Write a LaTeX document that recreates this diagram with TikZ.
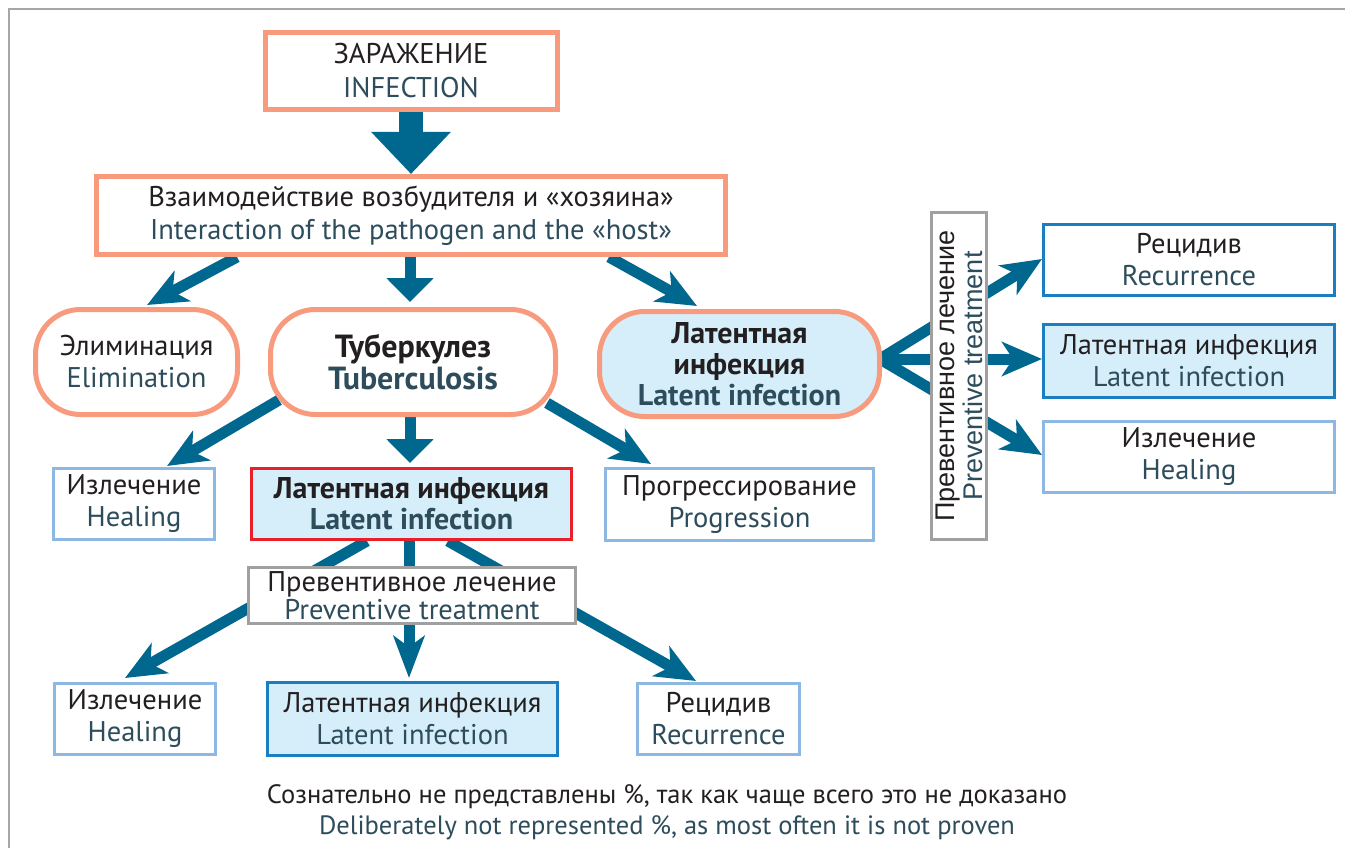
\documentclass[tikz,border=0pt]{standalone}
\usepackage{fontspec}
\setmainfont{PT Sans}
\newfontfamily\arialf{Liberation Sans}
\usetikzlibrary{arrows.meta,backgrounds}
\definecolor{salmon}{HTML}{F79A7D}
\definecolor{lightfill}{HTML}{D6EEFA}
\definecolor{lightborder}{HTML}{8DB8E3}
\definecolor{darkborder}{HTML}{1B7DC2}
\definecolor{redborder}{HTML}{E8202A}
\definecolor{grayborder}{HTML}{A0A0A0}
\definecolor{framegray}{HTML}{A6A6A6}
\definecolor{arrowblue}{HTML}{00688F}
\definecolor{rutext}{HTML}{231F20}
\definecolor{entext}{HTML}{2E4D5C}
\newcommand\bil[2]{\textcolor{rutext}{#1}\\\textcolor{entext}{#2}}
\tikzset{
  sz/.style 2 args={minimum width=#1, minimum height=#2},
  basebox/.style={draw, fill=white, inner sep=0pt, align=center, font=\fontsize{28.5}{32}\selectfont},
  boldtext/.style={font=\fontsize{30}{31}\selectfont\bfseries},
  sbox/.style={basebox, draw=salmon, line width=5pt},
  sround/.style={sbox, rounded corners=45pt},
  lbox/.style={basebox, draw=lightborder, line width=3pt},
  dbox/.style={basebox, draw=darkborder, line width=3pt, fill=lightfill},
  gbox/.style={basebox, draw=grayborder, line width=3pt},
  flow/.style={draw=arrowblue, line width=11pt, -{Stealth[length=40pt, width=34pt, inset=11pt]}, arrowblue},
  flowtri/.style={draw=arrowblue, line width=11pt, -{Triangle[length=24pt, width=46pt]}, arrowblue},
  bigflow/.style={draw=arrowblue, line width=24pt, -{Triangle[length=42pt, width=77pt]}, arrowblue},
}
\begin{document}
\begin{tikzpicture}[x=1pt,y=-1pt]
\useasboundingbox (0,0) rectangle (1345,848);
\draw[framegray, line width=1.5pt] (9,848) -- (9,9) -- (1345,9);

\node[sbox, sz={292pt}{77pt}, font=\fontsize{28.5}{34}\selectfont] (inf) at (411,71) {\bil{ЗАРАЖЕНИЕ}{INFECTION}};
\node[sbox, sz={629pt}{78pt}, font=\fontsize{28.5}{33}\selectfont] (inter) at (411,215.5) {\bil{Взаимодействие возбудителя и «хозяина»}{Interaction of the pathogen and the «host»}};
\node[sround, sz={202pt}{105pt}] (elim) at (136.5,362) {\bil{Элиминация}{Elimination}};
\node[sround, font=\fontsize{32}{32}\selectfont\bfseries, sz={285pt}{105pt}] (tb) at (413,362) {\bil{Туберкулез}{Tuberculosis}};
\node[sround, boldtext, fill=lightfill, sz={280pt}{105pt}] (lat1) at (739.5,364) {\textcolor{rutext}{Латентная}\\\bil{инфекция}{Latent infection}};

\node[lbox, sz={161pt}{71pt}] (heal1) at (134,504) {\bil{Излечение}{Healing}};
\node[dbox, boldtext, draw=redborder, sz={320pt}{71pt}] (lat2) at (411.5,504) {\bil{Латентная инфекция}{Latent infection}};
\node[lbox, sz={268pt}{72pt}] (prog) at (739.5,504.5) {\bil{Прогрессирование}{Progression}};

\node[gbox, sz={327pt}{56pt}, font=\fontsize{28.5}{28}\selectfont] (prev) at (412,595.5) {\bil{Превентивное лечение}{Preventive treatment}};

\node[lbox, sz={161pt}{71pt}] (heal2) at (135,719) {\bil{Излечение}{Healing}};
\node[dbox, sz={290pt}{73pt}] (lat3) at (412.5,719) {\bil{Латентная инфекция}{Latent infection}};
\node[lbox, sz={162pt}{71pt}] (rec2) at (718.5,719) {\bil{Рецидив}{Recurrence}};

\node[gbox, rotate=90, sz={327pt}{55pt}, font=\arialf\fontsize{27}{28}\selectfont] (prevV) at (959,376) {\bil{Превентивное лечение}{Preventive treatment}};

\node[dbox, fill=white, sz={291pt}{71pt}] (rec1) at (1189,260) {\bil{Рецидив}{Recurrence}};
\node[dbox, sz={291pt}{73pt}] (lat4) at (1189,361) {\bil{Латентная инфекция}{Latent infection}};
\node[lbox, sz={291pt}{71pt}] (heal3) at (1189,457) {\bil{Излечение}{Healing}};

\node[align=center, font=\fontsize{26.5}{31}\selectfont] (foot) at (667,812) {\bil{Сознательно не представлены \%, так как чаще всего это не доказано}{Deliberately not represented \%, as most often it is not proven}};

\begin{scope}[on background layer]
\fill[white] (0,0) rectangle (1345,848);
\draw[bigflow] (inf.south) -- (inter.north);
\draw[flow] ([xshift=-174pt]inter.south) -- ([xshift=10.5pt,yshift=2pt]elim.north);
\draw[flowtri] ([xshift=-1pt]inter.south) -- ([xshift=-3pt,yshift=5pt]tb.north);
\draw[flow] ([xshift=198pt]inter.south) -- ([xshift=-42.5pt,yshift=3pt]lat1.north);
\draw[flow] ([xshift=11pt,yshift=17pt]tb.south west) -- ([xshift=33pt,yshift=1pt]heal1.north);
\draw[flowtri] ([xshift=-3pt]tb.south) -- ([xshift=-1.5pt,yshift=4pt]lat2.north);
\draw[flow] ([xshift=-11pt,yshift=14pt]tb.south east) -- ([xshift=-88.5pt,yshift=3pt]prog.north);
\draw[flow] ([xshift=-44.5pt]lat2.south) -- ([xshift=-10pt,yshift=4pt]heal2.north);
\draw[flow, -{Stealth[length=42pt, width=31pt, inset=11pt]}] ([xshift=-2.5pt]lat2.south) -- ([xshift=-3.5pt,yshift=3pt]lat3.north);
\draw[flow] ([xshift=36.5pt]lat2.south) -- ([xshift=-22.5pt,yshift=1pt]rec2.north);
\draw[flow] ([xshift=-2pt,yshift=5pt]lat1.east) -- ([yshift=1pt]rec1.west);
\draw[flow] ([xshift=-2pt,yshift=5pt]lat1.east) -- ([yshift=2pt]lat4.west);
\draw[flow] ([xshift=-2pt,yshift=5pt]lat1.east) -- ([yshift=2pt]heal3.west);
\end{scope}
\end{tikzpicture}
\end{document}
